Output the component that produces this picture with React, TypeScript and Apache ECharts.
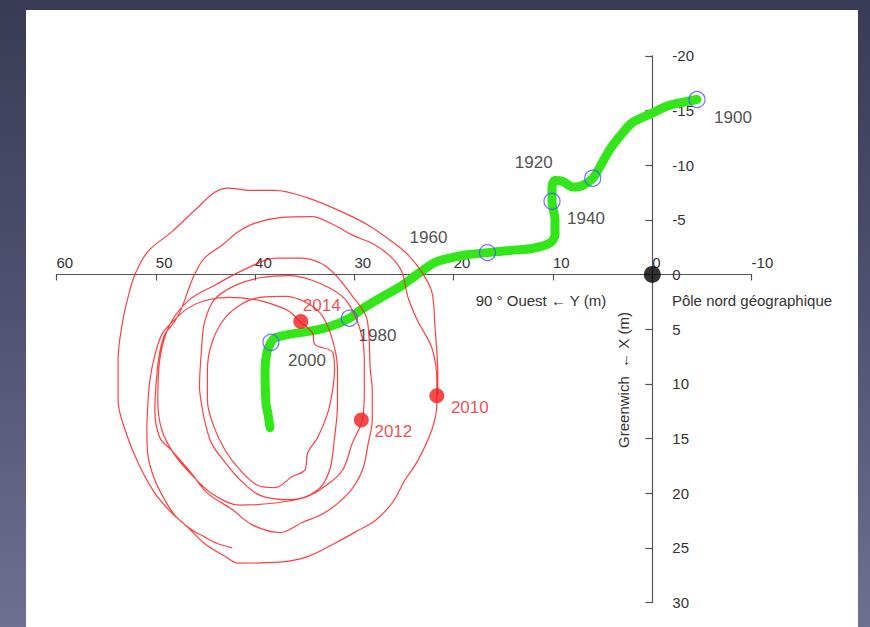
import React, { useEffect, useRef } from "react";
import * as echarts from "echarts";

// Y axis (horizontal, metres towards 90° West) and X axis (vertical, metres towards Greenwich)
const yTicks = { min: -10, max: 60, interval: 10 };
const xTicks = { min: -20, max: 30, interval: 5 };

// Mean pole path 1900 -> ~2010 : [Y, X]
const meanPolePath: number[][] = [
  [-4.5, -16.0], [-2.8, -15.7], [-1.5, -15.4], [-0.1, -14.8], [2.0, -13.9], [3.3, -12.6],
  [4.3, -11.4], [5.3, -9.8], [6.0, -8.8], [7.1, -8.1], [8.0, -8.0], [9.0, -8.5], [9.8, -8.6],
  [10.1, -8.0], [10.1, -6.7], [9.8, -5.0], [9.8, -3.6], [10.3, -2.9], [12.0, -2.4], [14.3, -2.2],
  [16.6, -2.0], [18.7, -1.8], [20.4, -1.5], [21.9, -1.1], [23.7, 0.0], [25.2, 1.0], [27.3, 2.1],
  [29.3, 3.2], [30.5, 4.0], [32.6, 4.8], [34.6, 5.2], [36.7, 5.5], [38.0, 5.8], [38.4, 6.2],
  [38.8, 7.1], [39.0, 8.7], [38.9, 11.8], [38.7, 12.8], [38.5, 14.0],
];

// Year markers on the mean pole path
const meanYears = ["1900", "1920", "1940", "1960", "1980", "2000"];
const meanYearPos: number[][] = [
  [-4.5, -16.0], [6.0, -8.8], [10.1, -6.7], [16.6, -2.0], [30.5, 4.0], [38.4, 6.2],
];
const meanYearLabelOffset: number[][] = [
  [36, 18], [-59, -16], [34, 17], [-59, -15], [28, 17], [36, 18],
];

// Instantaneous pole path (polar wobble) : [Y, X]
const wobblePath: number[][] = [
  [21.6, 11.0], [21.6, 9.2], [21.9, 4.6], [22.2, 1.6], [23.2, -0.2], [24.6, -1.8], [26.2, -3.0],
  [28.6, -4.5], [31.2, -5.7], [34.7, -7.0], [38.0, -7.7], [40.7, -7.7], [42.7, -7.9], [44.1, -7.5],
  [45.8, -6.1], [48.4, -3.9], [50.8, -2.1], [52.1, 0.0], [52.8, 2.1], [53.4, 4.6], [53.8, 7.8],
  [53.8, 11.5], [53.1, 14.2], [51.8, 17.2], [50.1, 20.0], [48.4, 21.8], [46.8, 23.1], [45.1, 24.6],
  [43.0, 25.8], [41.7, 26.4], [37.5, 26.3], [34.7, 25.8], [32.0, 24.6], [29.6, 23.4], [27.9, 22.5],
  [26.2, 20.9], [24.9, 18.8], [23.6, 17.0], [22.2, 14.2], [21.7, 11.9], [21.7, 9.7], [22.2, 6.7],
  [23.6, 4.3], [24.6, 2.1], [25.2, -0.2], [26.2, -1.5], [27.9, -2.7], [30.2, -3.6], [32.0, -4.5],
  [34.3, -5.3], [37.5, -5.2], [40.0, -4.7], [41.7, -3.9], [43.3, -2.7], [45.1, -1.5], [46.1, 0.0],
  [46.8, 1.6], [47.4, 3.1], [48.1, 4.3], [49.1, 5.5], [49.6, 7.1], [49.9, 9.2], [50.1, 12.4],
  [49.6, 14.9], [48.4, 16.1], [46.4, 18.2], [44.8, 20.0], [42.3, 21.5], [40.3, 22.9], [37.5, 23.6],
  [35.3, 22.7], [33.0, 21.8], [30.6, 20.0], [29.2, 17.9], [28.6, 15.4], [28.2, 13.3], [28.2, 10.6],
  [28.4, 8.7], [28.7, 4.2], [30.1, 2.1], [32.8, -0.7], [35.5, -1.5], [37.8, -1.5], [41.2, -0.4],
  [44.1, 1.0], [46.6, 2.3], [48.6, 4.6], [49.6, 7.8], [49.8, 11.5], [49.4, 14.2], [48.1, 16.5],
  [46.1, 18.6], [44.1, 20.2], [41.5, 21.1], [38.0, 20.9], [35.0, 20.4], [33.0, 19.4], [31.2, 17.9],
  [30.2, 15.4], [29.2, 13.3], [29.0, 10.6], [29.0, 7.8], [29.4, 5.1], [30.9, 2.3], [33.5, 0.8],
  [36.5, 0.1], [39.5, 0.3], [42.0, 1.0], [44.1, 2.3], [45.1, 4.4], [45.4, 6.9], [45.6, 10.3],
  [45.4, 11.8], [45.1, 13.3], [44.4, 15.4], [43.0, 17.2], [41.5, 18.8], [39.5, 20.2], [36.5, 20.6],
  [33.7, 19.7], [32.5, 17.9], [32.0, 14.9], [31.7, 11.9], [31.7, 8.7], [32.2, 6.0], [33.3, 3.7],
  [35.0, 2.5], [37.0, 2.0], [39.5, 2.1], [41.7, 2.9], [43.3, 4.3], [44.4, 6.4], [44.8, 8.7],
  [44.8, 11.5], [44.2, 13.8], [43.0, 16.1], [41.5, 17.9], [39.7, 19.3], [38.0, 19.5], [36.3, 18.5],
  [35.0, 17.9], [34.7, 16.3], [33.7, 14.9], [32.7, 12.7], [32.2, 10.6], [32.0, 8.7], [32.2, 7.1],
  [34.0, 6.4], [34.2, 5.4], [34.8, 4.8], [35.5, 4.3], [36.5, 3.4], [38.0, 2.8], [40.0, 2.3],
  [42.7, 2.1], [45.1, 2.4], [46.8, 3.1], [48.4, 4.4], [49.4, 5.5], [50.1, 7.4], [50.6, 9.7],
  [50.8, 11.9], [50.9, 14.2], [50.8, 16.5], [50.1, 18.8], [49.1, 20.6], [48.1, 22.0], [46.6, 23.2],
  [45.1, 24.0], [43.8, 24.6], [42.3, 25.0],
];

const wobbleYears = ["2010", "2012", "2014"];
const wobbleYearPos: number[][] = [[21.7, 11.1], [29.3, 13.3], [35.4, 4.3]];
const wobbleLabelOffset: number[][] = [[33, 12], [32, 12], [21, -16]];

const geographicPole: number[][] = [[0, 0]];

const FONT = "'Liberation Sans', Arial, Helvetica, sans-serif";

// plot rectangle (pixels inside the chart div)
const GRID = { left: 56.5, right: 118.4, top: 55.8, bottom: 24.5 };
const W = 870;
const H = 627;

export default function App() {
  const ref = useRef<HTMLDivElement>(null);

  useEffect(() => {
    if (!ref.current) return;
    const chart = echarts.init(ref.current, undefined, { renderer: "svg" });

    // place each axis through the zero of the other one
    const plotW = W - GRID.left - GRID.right;
    const plotH = H - GRID.top - GRID.bottom;
    const zeroXpx = GRID.left + plotW * (yTicks.max - 0) / (yTicks.max - yTicks.min);
    const zeroYpx = GRID.top + plotH * (0 - xTicks.min) / (xTicks.max - xTicks.min);
    const xAxisOffset = -(zeroYpx - GRID.top);
    const yAxisOffset = -(W - GRID.right - zeroXpx);

    chart.setOption({
      animation: false,
      backgroundColor: "transparent",
      textStyle: { fontFamily: FONT },
      grid: GRID,
      xAxis: {
        type: "value",
        min: yTicks.min,
        max: yTicks.max,
        interval: yTicks.interval,
        inverse: true,
        position: "top",
        offset: xAxisOffset,
        axisLine: { onZero: false, lineStyle: { color: "#555", width: 1.2 } },
        axisTick: { inside: true, length: 6, lineStyle: { color: "#555", width: 1.2 } },
        axisLabel: { color: "#333", fontSize: 15, fontFamily: FONT, align: "left", margin: 4 },
        splitLine: { show: false },
      },
      yAxis: {
        type: "value",
        min: xTicks.min,
        max: xTicks.max,
        interval: xTicks.interval,
        inverse: true,
        position: "right",
        offset: yAxisOffset,
        axisLine: { onZero: false, lineStyle: { color: "#555", width: 1.2 } },
        axisTick: { inside: true, length: 7, lineStyle: { color: "#555", width: 1.2 } },
        axisLabel: { color: "#333", fontSize: 15, fontFamily: FONT, margin: 20 },
        splitLine: { show: false },
      },
      graphic: [
        {
          type: "text",
          x: 541,
          y: 300,
          style: {
            text: "90 ° Ouest ← Y (m)",
            font: `15px ${FONT}`,
            fill: "#333",
            textAlign: "center",
            textVerticalAlign: "middle",
          },
        },
        {
          type: "text",
          x: 752,
          y: 300,
          style: {
            text: "Pôle nord géographique",
            font: `15px ${FONT}`,
            fill: "#333",
            textAlign: "center",
            textVerticalAlign: "middle",
          },
        },
        {
          type: "text",
          x: 623,
          y: 380,
          rotation: Math.PI / 2,
          style: {
            text: "Greenwich  ← X (m)",
            font: `15px ${FONT}`,
            fill: "#333",
            textAlign: "center",
            textVerticalAlign: "middle",
          },
        },
      ],
      series: [
        {
          type: "line",
          data: meanPolePath,
          showSymbol: false,
          smooth: 0.3,
          z: 2,
          lineStyle: { color: "#33e61a", width: 9, cap: "round", join: "round" },
        },
        {
          type: "line",
          data: wobblePath,
          showSymbol: false,
          smooth: 0.35,
          z: 3,
          lineStyle: { color: "rgba(255,30,30,0.85)", width: 1.2 },
        },
        {
          type: "scatter",
          z: 4,
          symbol: "circle",
          symbolSize: 16,
          itemStyle: { color: "rgba(0,0,0,0)", borderColor: "#5050ff", borderWidth: 1.2 },
          label: {
            show: true,
            position: "inside",
            formatter: "{b}",
            color: "#222",
            fontSize: 17,
            fontFamily: FONT,
          },
          data: meanYears.map((name, i) => ({
            name,
            value: meanYearPos[i],
            label: { offset: meanYearLabelOffset[i] },
          })),
        },
        {
          type: "scatter",
          z: 5,
          symbol: "circle",
          symbolSize: 15,
          itemStyle: { color: "#f21d1d" },
          label: {
            show: true,
            position: "inside",
            formatter: "{b}",
            color: "#f21d1d",
            fontSize: 17,
            fontFamily: FONT,
          },
          data: wobbleYears.map((name, i) => ({
            name,
            value: wobbleYearPos[i],
            label: { offset: wobbleLabelOffset[i] },
          })),
        },
        {
          type: "scatter",
          z: 6,
          symbol: "circle",
          symbolSize: 17,
          itemStyle: { color: "#000" },
          data: geographicPole,
        },
      ],
    });
    return () => chart.dispose();
  }, []);

  return (
    <div
      style={{
        position: "fixed",
        left: 0,
        top: 0,
        width: W,
        height: H,
        background: "linear-gradient(to bottom, #393b56 0%, #4f5270 50%, #6d708e 100%)",
        overflow: "hidden",
      }}
    >
      <div
        style={{
          position: "absolute",
          left: 26,
          top: 10,
          width: 832,
          height: 617,
          background: "#ffffff",
        }}
      />
      <div ref={ref} style={{ position: "absolute", left: 0, top: 0, width: W, height: H }} />
    </div>
  );
}
